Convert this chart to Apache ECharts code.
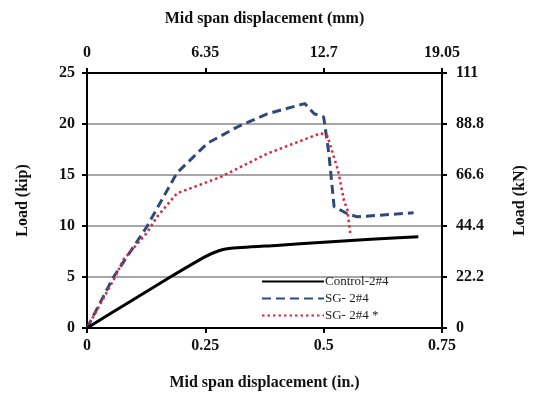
<!DOCTYPE html>
<html>
<head>
<meta charset="utf-8">
<script src="https://cdn.jsdelivr.net/npm/echarts@6/dist/echarts.min.js"></script>
<style>
  html, body { margin: 0; padding: 0; background: #fff; }
  #chart { width: 542px; height: 401px; }
</style>
</head>
<body>
<div id="chart"></div>
<script>
// series names
var seriesNames = ['Control-2#4', 'SG- 2#4', 'SG- 2#4 *'];

// mid span displacement (in.) and load (kip)
var controlX = [0, 0.10, 0.176, 0.25, 0.28, 0.30, 0.40, 0.50, 0.60, 0.70];
var controlY = [0, 2.85, 5.0, 7.0, 7.6, 7.8, 8.1, 8.4, 8.7, 8.95];

var sgX = [0, 0.056, 0.126, 0.19, 0.254, 0.317, 0.381, 0.46, 0.48, 0.50, 0.511, 0.522, 0.55, 0.571, 0.69];
var sgY = [0, 5.0, 9.9, 15.2, 18.1, 19.7, 21.0, 22.0, 21.0, 20.7, 17.1, 11.9, 11.2, 10.9, 11.3];

var sgStarX = [0, 0.056, 0.077, 0.126, 0.148, 0.19, 0.282, 0.381, 0.494, 0.508, 0.53, 0.543, 0.55, 0.557];
var sgStarY = [0, 4.7, 6.7, 9.3, 10.9, 13.2, 14.8, 17.1, 19.1, 18.8, 15.5, 12.5, 11.6, 9.0];

// tick labels for the secondary axes
var mmLabels = ['0', '6.35', '12.7', '19.05'];
var knLabels = ['0', '22.2', '44.4', '66.6', '88.8', '111'];

function pairs(xs, ys) {
    return xs.map(function (x, i) { return [x, ys[i]]; });
}

var chart = echarts.init(document.getElementById('chart'));
var font = '"Liberation Serif", "Times New Roman", serif';
var tickLabel = { fontFamily: font, fontWeight: 'bold', fontSize: 16, color: '#111' };
var axisTitle = { fontFamily: font, fontWeight: 'bold', fontSize: 16, color: '#111' };
var axisLine = { show: true, onZero: false, lineStyle: { color: '#000', width: 2 } };
var axisTick = { show: true, length: 5, lineStyle: { color: '#000', width: 2 } };

var option = {
    animation: false,
    backgroundColor: '#fff',
    grid: { left: 87, right: 100, top: 73, bottom: 73, containLabel: false },
    legend: {
        orient: 'vertical',
        left: 256,
        top: 270,
        itemWidth: 62,
        itemHeight: 10,
        itemGap: 4,
        itemStyle: { opacity: 0 },
        textStyle: { fontFamily: font, fontSize: 13, color: '#222', padding: [0, 0, 0, -4] },
        data: seriesNames
    },
    xAxis: [{
        type: 'value',
        position: 'bottom',
        min: 0, max: 0.75, interval: 0.25,
        name: 'Mid span displacement (in.)',
        nameLocation: 'middle',
        nameGap: 47,
        nameTextStyle: axisTitle,
        axisLine: axisLine,
        axisTick: axisTick,
        axisLabel: Object.assign({ margin: 10 }, tickLabel),
        splitLine: { show: false }
    }, {
        type: 'value',
        position: 'top',
        min: 0, max: 0.75, interval: 0.25,
        name: 'Mid span displacement (mm)',
        nameLocation: 'middle',
        nameGap: 46,
        nameTextStyle: axisTitle,
        axisLine: axisLine,
        axisTick: axisTick,
        axisLabel: Object.assign({
            margin: 12,
            formatter: function (v) { return mmLabels[Math.round(v / 0.25)]; }
        }, tickLabel),
        splitLine: { show: false }
    }],
    yAxis: [{
        type: 'value',
        position: 'left',
        min: 0, max: 25, interval: 5,
        name: 'Load (kip)',
        nameLocation: 'middle',
        nameGap: 56,
        nameTextStyle: axisTitle,
        axisLine: axisLine,
        axisTick: axisTick,
        axisLabel: Object.assign({ margin: 12 }, tickLabel),
        splitLine: { show: true, lineStyle: { color: '#8a8a8a', width: 1.5 } }
    }, {
        type: 'value',
        position: 'right',
        min: 0, max: 25, interval: 5,
        name: 'Load (kN)',
        nameLocation: 'middle',
        nameGap: 70,
        nameRotate: 90,
        nameTextStyle: axisTitle,
        axisLine: axisLine,
        axisTick: axisTick,
        axisLabel: Object.assign({
            margin: 14,
            formatter: function (v) { return knLabels[Math.round(v / 5)]; }
        }, tickLabel),
        splitLine: { show: false }
    }],
    series: [{
        name: seriesNames[0],
        type: 'line',
        symbol: 'none',
        smooth: 0.2,
        data: pairs(controlX, controlY),
        lineStyle: { color: '#000', width: 3, type: 'solid' },
        itemStyle: { color: '#000' },
        z: 3
    }, {
        name: seriesNames[1],
        type: 'line',
        symbol: 'none',
        data: pairs(sgX, sgY),
        lineStyle: { color: '#2f4a7a', width: 3, type: [9, 5] },
        itemStyle: { color: '#2f4a7a' },
        z: 2
    }, {
        name: seriesNames[2],
        type: 'line',
        symbol: 'none',
        data: pairs(sgStarX, sgStarY),
        lineStyle: { color: '#d8283c', width: 2.5, type: [2.5, 3] },
        itemStyle: { color: '#d8283c' },
        z: 2
    }]
};
chart.setOption(option);
window.addEventListener('resize', function () {
    chart.resize();
});
</script>
</body>
</html>
